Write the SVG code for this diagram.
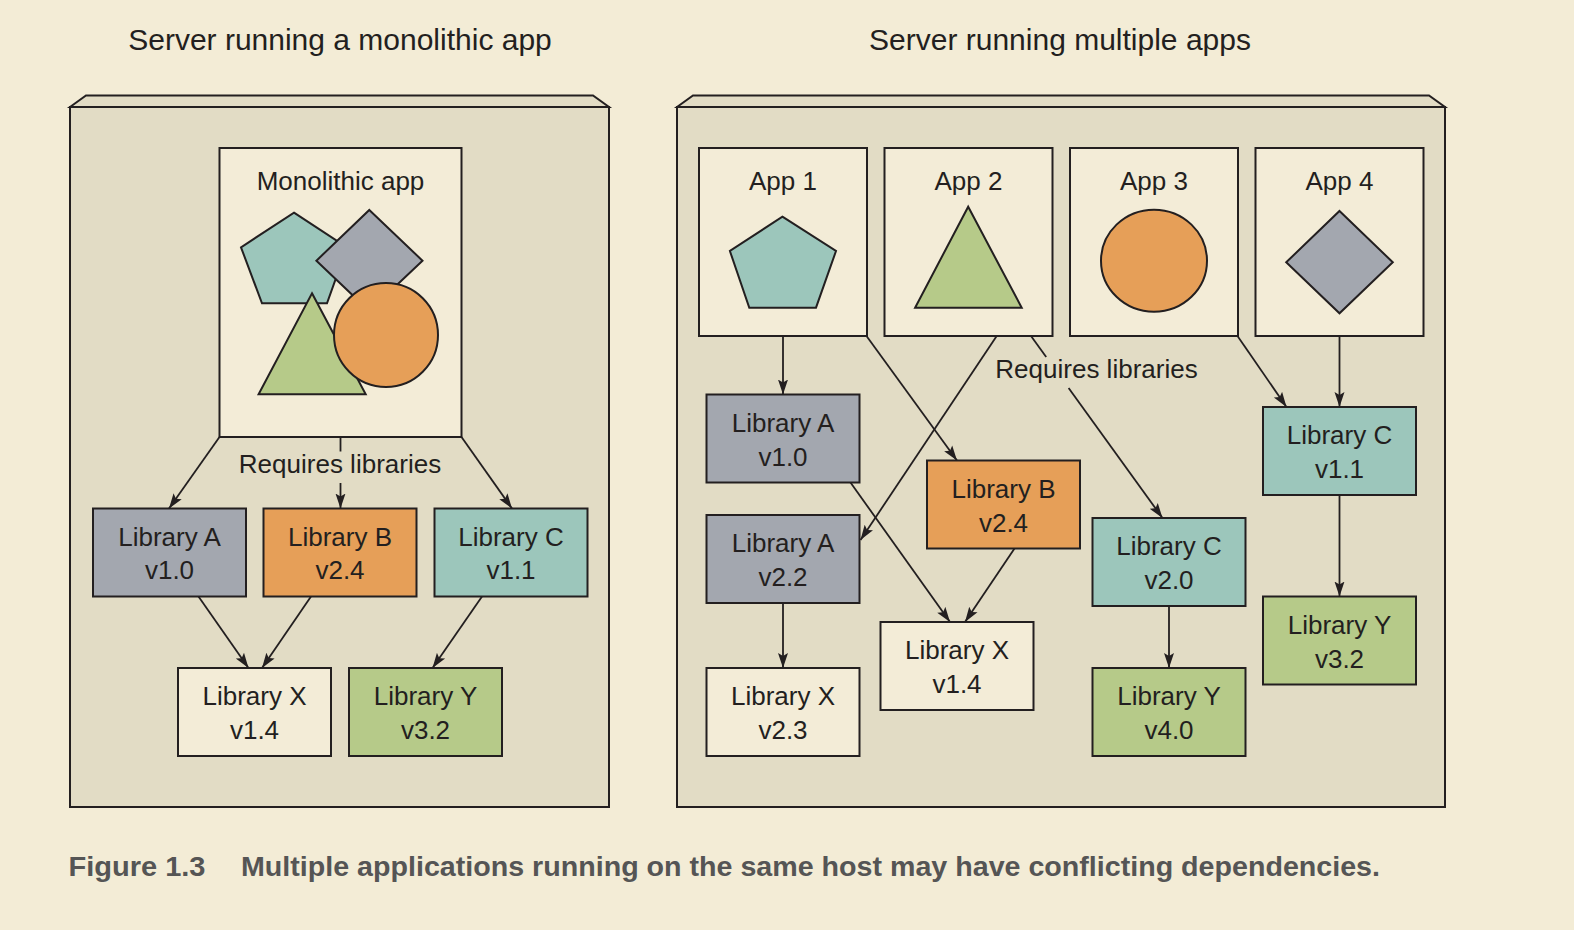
<svg xmlns="http://www.w3.org/2000/svg" width="1574" height="930" viewBox="0 0 1574 930">
<defs>
<style>
text{font-family:"Liberation Sans",Arial,Helvetica,sans-serif;fill:#231F20;font-size:26px;text-anchor:middle}
.title{font-size:30px}
.cap{font-weight:bold;fill:#555555;font-size:28px;text-anchor:start}
.srv{fill:#E2DCC5;stroke:#231F20;stroke-width:2}
.box{stroke:#231F20;stroke-width:2}
.app{fill:#F3ECD7}
.gray{fill:#A3A7AF}
.orange{fill:#E69F58}
.teal{fill:#9CC6BB}
.green{fill:#B6CA89}
.cream{fill:#F3ECD7}
.shape{stroke:#231F20;stroke-width:2}
.conn line{stroke:#231F20;stroke-width:1.8;fill:none}
.arr{marker-end:url(#ah)}
</style>
<marker id="ah" markerUnits="userSpaceOnUse" markerWidth="16" markerHeight="12" viewBox="0 0 16 12" refX="15" refY="6" orient="auto">
<path d="M0,1 L15,6 L0,11 L3,6 z" fill="#231F20"/>
</marker>
</defs>
<rect width="1574" height="930" fill="#F3ECD6"/>

<text class="title" x="340" y="50">Server running a monolithic app</text>
<text class="title" x="1060" y="50">Server running multiple apps</text>

<g id="server-left">
<polygon class="srv" points="70,107 86,95.5 593,95.5 609,107"/>
<rect class="srv" x="70" y="107" width="539" height="700"/>
</g>
<g id="server-right">
<polygon class="srv" points="677,107 693,95.5 1429,95.5 1445,107"/>
<rect class="srv" x="677" y="107" width="768" height="700"/>
</g>

<g id="monolithic-app">
<rect class="box app" x="219.5" y="148" width="242" height="289"/>
<text x="340.5" y="190">Monolithic app</text>
<polygon class="shape teal" points="294,212.7 347,247.3 327,303.3 262,303.3 241,247.3"/>
<polygon class="shape gray" points="369.3,210 422.5,260.7 369.3,311 316.4,260.7"/>
<polygon class="shape green" points="312,293.3 365.7,394.3 258.6,394.3"/>
<circle class="shape orange" cx="386" cy="335" r="52"/>
</g>

<g id="left-lib-a"><rect class="box gray" x="93" y="508.5" width="153" height="88"/><text x="169.5" y="545.5">Library A</text><text x="169.5" y="579">v1.0</text></g>
<g id="left-lib-b"><rect class="box orange" x="263.5" y="508.5" width="153" height="88"/><text x="340" y="545.5">Library B</text><text x="340" y="579">v2.4</text></g>
<g id="left-lib-c"><rect class="box teal" x="434.5" y="508.5" width="153" height="88"/><text x="511" y="545.5">Library C</text><text x="511" y="579">v1.1</text></g>
<g id="left-lib-x"><rect class="box cream" x="178" y="668" width="153" height="88"/><text x="254.5" y="705">Library X</text><text x="254.5" y="739">v1.4</text></g>
<g id="left-lib-y"><rect class="box green" x="349" y="668" width="153" height="88"/><text x="425.5" y="705">Library Y</text><text x="425.5" y="739">v3.2</text></g>

<g id="app1"><rect class="box app" x="699" y="148" width="168" height="188"/><text x="783" y="190">App 1</text>
<polygon class="shape teal" points="782.4,216.7 836,251 816,307.7 749.3,307.7 729.9,251"/></g>
<g id="app2"><rect class="box app" x="884.5" y="148" width="168" height="188"/><text x="968.5" y="190">App 2</text>
<polygon class="shape green" points="968.2,206.7 1021.7,307.7 915.1,307.7"/></g>
<g id="app3"><rect class="box app" x="1070" y="148" width="168" height="188"/><text x="1154" y="190">App 3</text>
<ellipse class="shape orange" cx="1154" cy="260.7" rx="53" ry="51"/></g>
<g id="app4"><rect class="box app" x="1255.5" y="148" width="168" height="188"/><text x="1339.5" y="190">App 4</text>
<polygon class="shape gray" points="1339.5,211 1392.8,262.3 1339.5,313.3 1286.2,262.3"/></g>

<g id="right-lib-a10"><rect class="box gray" x="706.5" y="394.5" width="153" height="88"/><text x="783" y="431.5">Library A</text><text x="783" y="465.5">v1.0</text></g>
<g id="right-lib-a22"><rect class="box gray" x="706.5" y="515" width="153" height="88"/><text x="783" y="552">Library A</text><text x="783" y="586">v2.2</text></g>
<g id="right-lib-x23"><rect class="box cream" x="706.5" y="668" width="153" height="88"/><text x="783" y="705">Library X</text><text x="783" y="739">v2.3</text></g>
<g id="right-lib-b24"><rect class="box orange" x="927" y="460.5" width="153" height="88"/><text x="1003.5" y="497.5">Library B</text><text x="1003.5" y="531.5">v2.4</text></g>
<g id="right-lib-x14"><rect class="box cream" x="880.5" y="622" width="153" height="88"/><text x="957" y="659">Library X</text><text x="957" y="693">v1.4</text></g>
<g id="right-lib-c20"><rect class="box teal" x="1092.5" y="518" width="153" height="88"/><text x="1169" y="555">Library C</text><text x="1169" y="589">v2.0</text></g>
<g id="right-lib-y40"><rect class="box green" x="1092.5" y="668" width="153" height="88"/><text x="1169" y="705">Library Y</text><text x="1169" y="739">v4.0</text></g>
<g id="right-lib-c11"><rect class="box teal" x="1263" y="407" width="153" height="88"/><text x="1339.5" y="444">Library C</text><text x="1339.5" y="478">v1.1</text></g>
<g id="right-lib-y32"><rect class="box green" x="1263" y="596.5" width="153" height="88"/><text x="1339.5" y="633.5">Library Y</text><text x="1339.5" y="667.5">v3.2</text></g>

<g id="connectors" class="conn">
<line class="arr" x1="219.5" y1="437" x2="169" y2="508.5"/>
<line x1="340.5" y1="437" x2="340.5" y2="451.5"/>
<line class="arr" x1="340.5" y1="483" x2="340.5" y2="508.5"/>
<line class="arr" x1="461.5" y1="437" x2="512" y2="508.5"/>
<line class="arr" x1="198.5" y1="596.5" x2="248.5" y2="668"/>
<line class="arr" x1="311" y1="596.5" x2="262" y2="668"/>
<line class="arr" x1="482" y1="596.5" x2="432.5" y2="668"/>

<line class="arr" x1="783" y1="336" x2="783" y2="394.5"/>
<line class="arr" x1="866.5" y1="336" x2="957" y2="460.5"/>
<line class="arr" x1="996.7" y1="336" x2="860.5" y2="540"/>
<line x1="1031" y1="336" x2="1046.2" y2="357"/>
<line class="arr" x1="1068.6" y1="388" x2="1162.5" y2="518"/>
<line class="arr" x1="1237.5" y1="336" x2="1286.5" y2="407"/>
<line class="arr" x1="1339.5" y1="336" x2="1339.5" y2="407"/>
<line class="arr" x1="850.5" y1="482.5" x2="950" y2="622"/>
<line class="arr" x1="1014.5" y1="548.5" x2="965" y2="622"/>
<line class="arr" x1="783" y1="603" x2="783" y2="668"/>
<line class="arr" x1="1169" y1="606" x2="1169" y2="668"/>
<line class="arr" x1="1339.5" y1="495" x2="1339.5" y2="596.5"/>
<text x="340" y="473">Requires libraries</text>
<text x="1096.5" y="378">Requires libraries</text>
</g>

<text class="cap" x="68.5" y="876" textLength="137" lengthAdjust="spacingAndGlyphs">Figure 1.3</text>
<text class="cap" x="241" y="876" textLength="1139" lengthAdjust="spacingAndGlyphs">Multiple applications running on the same host may have conflicting dependencies.</text>
</svg>
